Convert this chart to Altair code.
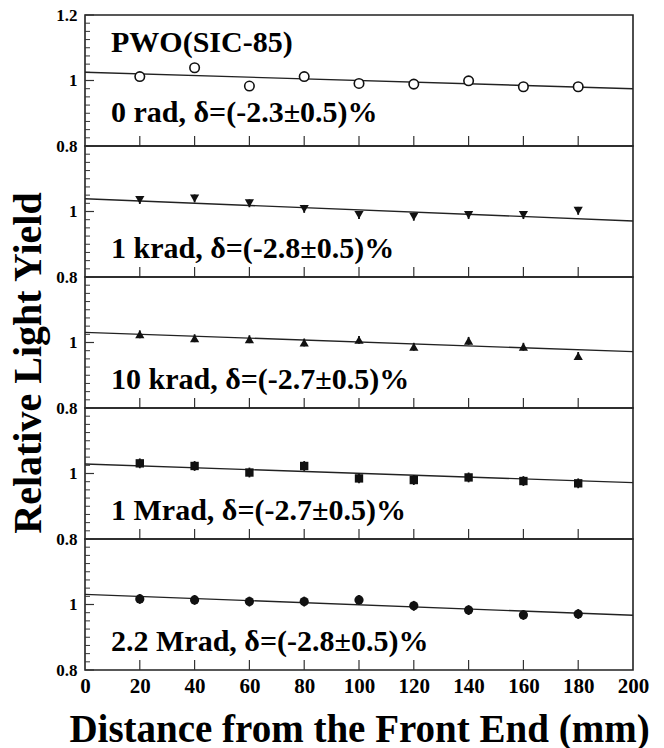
import altair as alt
import pandas as pd

# Measurement positions along the crystal (mm)
distance = [20, 40, 60, 80, 100, 120, 140, 160, 180]

# Relative light yield for each dose
yield_0rad = [1.012, 1.039, 0.983, 1.012, 0.991, 0.989, 0.999, 0.981, 0.981]
yield_1krad = [1.035, 1.040, 1.025, 1.008, 0.989, 0.984, 0.989, 0.989, 1.002]
yield_10krad = [1.025, 1.013, 1.010, 1.000, 1.008, 0.987, 1.005, 0.987, 0.959]
yield_1Mrad = [1.031, 1.023, 1.003, 1.023, 0.985, 0.980, 0.988, 0.977, 0.970]
yield_2p2Mrad = [1.017, 1.014, 1.009, 1.009, 1.014, 0.996, 0.983, 0.968, 0.971]

# Linear fits: value at the front (0 mm) and back (200 mm) ends
fit_x = [0, 200]
fit_0rad = [1.025, 0.975]
fit_1krad = [1.039, 0.971]
fit_10krad = [1.031, 0.972]
fit_1Mrad = [1.029, 0.972]
fit_2p2Mrad = [1.031, 0.967]

# Per-point uncertainty for each dose
point_error = [0.0, 0.012, 0.012, 0.015, 0.015]

doses = ["0 rad", "1 krad", "10 krad", "1 Mrad", "2.2 Mrad"]
slopes = ["-2.3", "-2.8", "-2.7", "-2.7", "-2.8"]
slope_error = "0.5"
sample_name = "PWO(SIC-85)"

shapes = ["circle", "triangle-down", "triangle-up", "square", "circle"]
filled = [False, True, True, True, True]
sizes = [90, 85, 85, 70, 85]

# Axis tick values
x_ticks = [0, 20, 40, 60, 80, 100, 120, 140, 160, 180, 200]
x_inner_ticks = [20, 40, 60, 80, 100, 120, 140, 160, 180]
y_major = [0.8, 1.0, 1.2]
y_minor = [0.825, 0.85, 0.875, 0.9, 0.925, 0.95, 0.975,
           1.025, 1.05, 1.075, 1.1, 1.125, 1.15, 1.175]

series = [yield_0rad, yield_1krad, yield_10krad, yield_1Mrad, yield_2p2Mrad]
fits = [fit_0rad, fit_1krad, fit_10krad, fit_1Mrad, fit_2p2Mrad]

FONT = "Liberation Serif"
W, H = 548, 131
INK = "#111111"

x_scale = alt.Scale(domain=[0, 200], nice=False, zero=False)
y_scale = alt.Scale(domain=[0.8, 1.2], nice=False, zero=False)


def panel(i):
    last = i == len(series) - 1
    err = point_error[i]
    pts = pd.DataFrame({
        "distance": distance,
        "value": series[i],
        "lo": [v - err for v in series[i]],
        "hi": [v + err for v in series[i]],
    })

    if last:
        x_axis = alt.Axis(
            values=x_ticks, format="d", tickSize=0, domain=False, grid=False,
            labelFont=FONT, labelFontSize=21, labelFontWeight="bold",
            labelColor="black", labelPadding=5, labelFlush=False,
            title="Distance from the Front End (mm)", titleFont=FONT,
            titleFontSize=39, titleFontWeight="bold", titleColor="black",
            titlePadding=14,
        )
    else:
        x_axis = alt.Axis(labels=False, ticks=False, domain=False, grid=False,
                          title=None)

    y_axis_kw = dict(
        values=y_major if i == 0 else y_major[:2], format="~g", tickSize=0,
        domain=False, grid=False, labelFont=FONT, labelFontSize=17,
        labelFontWeight="bold", labelColor="black", labelPadding=8,
        labelFlush=False,
    )
    if i == 2:
        y_axis_kw.update(
            title="Relative Light Yield", titleFont=FONT, titleFontSize=40,
            titleFontWeight="bold", titleColor="black", titlePadding=7,
            titleY=H / 2 + 20,
        )
    else:
        y_axis_kw.update(title=None)
    y_axis = alt.Axis(**y_axis_kw)

    def xe(field):
        return alt.X(field, type="quantitative", scale=x_scale, axis=x_axis)

    def ye(field):
        return alt.Y(field, type="quantitative", scale=y_scale, axis=y_axis)

    mark_kw = dict(shape=shapes[i], size=sizes[i], opacity=1,
                   filled=filled[i], color=INK)
    if not filled[i]:
        mark_kw.update(strokeWidth=1.6, fill="white")

    points = alt.Chart(pts).mark_point(**mark_kw).encode(
        x=xe("distance"), y=ye("value"),
    )

    bars = alt.Chart(pts).mark_rule(color=INK, strokeWidth=1.8).encode(
        x=xe("distance"), y=ye("lo"), y2="hi:Q",
    )

    fit = alt.Chart(pd.DataFrame({"fx": fit_x, "fy": fits[i]})).mark_line(
        color="#222222", strokeWidth=1.4
    ).encode(x=xe("fx"), y=ye("fy"))

    minor = alt.Chart(pd.DataFrame({"t": y_minor})).mark_rule(
        color="#333333", strokeWidth=1
    ).encode(y=ye("t"), x=alt.value(0), x2=alt.value(5))
    major = alt.Chart(pd.DataFrame({"t": y_major})).mark_rule(
        color="#333333", strokeWidth=1.2
    ).encode(y=ye("t"), x=alt.value(0), x2=alt.value(9))
    xt = alt.Chart(pd.DataFrame({"t": x_inner_ticks})).mark_rule(
        color="#333333", strokeWidth=1.2
    ).encode(x=xe("t"), y=alt.value(H), y2=alt.value(H - 10))

    label = f"{doses[i]}, \u03b4=({slopes[i]}\u00b1{slope_error})%"
    text_kw = dict(font=FONT, fontSize=30, fontWeight="bold", align="left",
                   baseline="middle", color="black")
    dose_text = alt.Chart(pd.DataFrame({"label": [label]})).mark_text(
        **text_kw
    ).encode(
        text="label:N", x=alt.value(26), y=alt.value(98 if i == 0 else 103),
    )
    layers = [minor, major, xt, fit, bars, points, dose_text]
    if i == 0:
        name_text = alt.Chart(pd.DataFrame({"label": [sample_name]})).mark_text(
            **text_kw
        ).encode(text="label:N", x=alt.value(26), y=alt.value(28))
        layers.append(name_text)

    return alt.layer(*layers).properties(width=W, height=H)


chart = alt.vconcat(
    *[panel(i) for i in range(len(series))], spacing=0, bounds="flush"
).properties(
    padding={"left": 7, "top": 5, "right": 10, "bottom": 0},
    background="white",
).configure_view(
    stroke="#222222", strokeWidth=1.6,
)

chart.save("out.html", embed_options={"renderer": "svg", "actions": False})
